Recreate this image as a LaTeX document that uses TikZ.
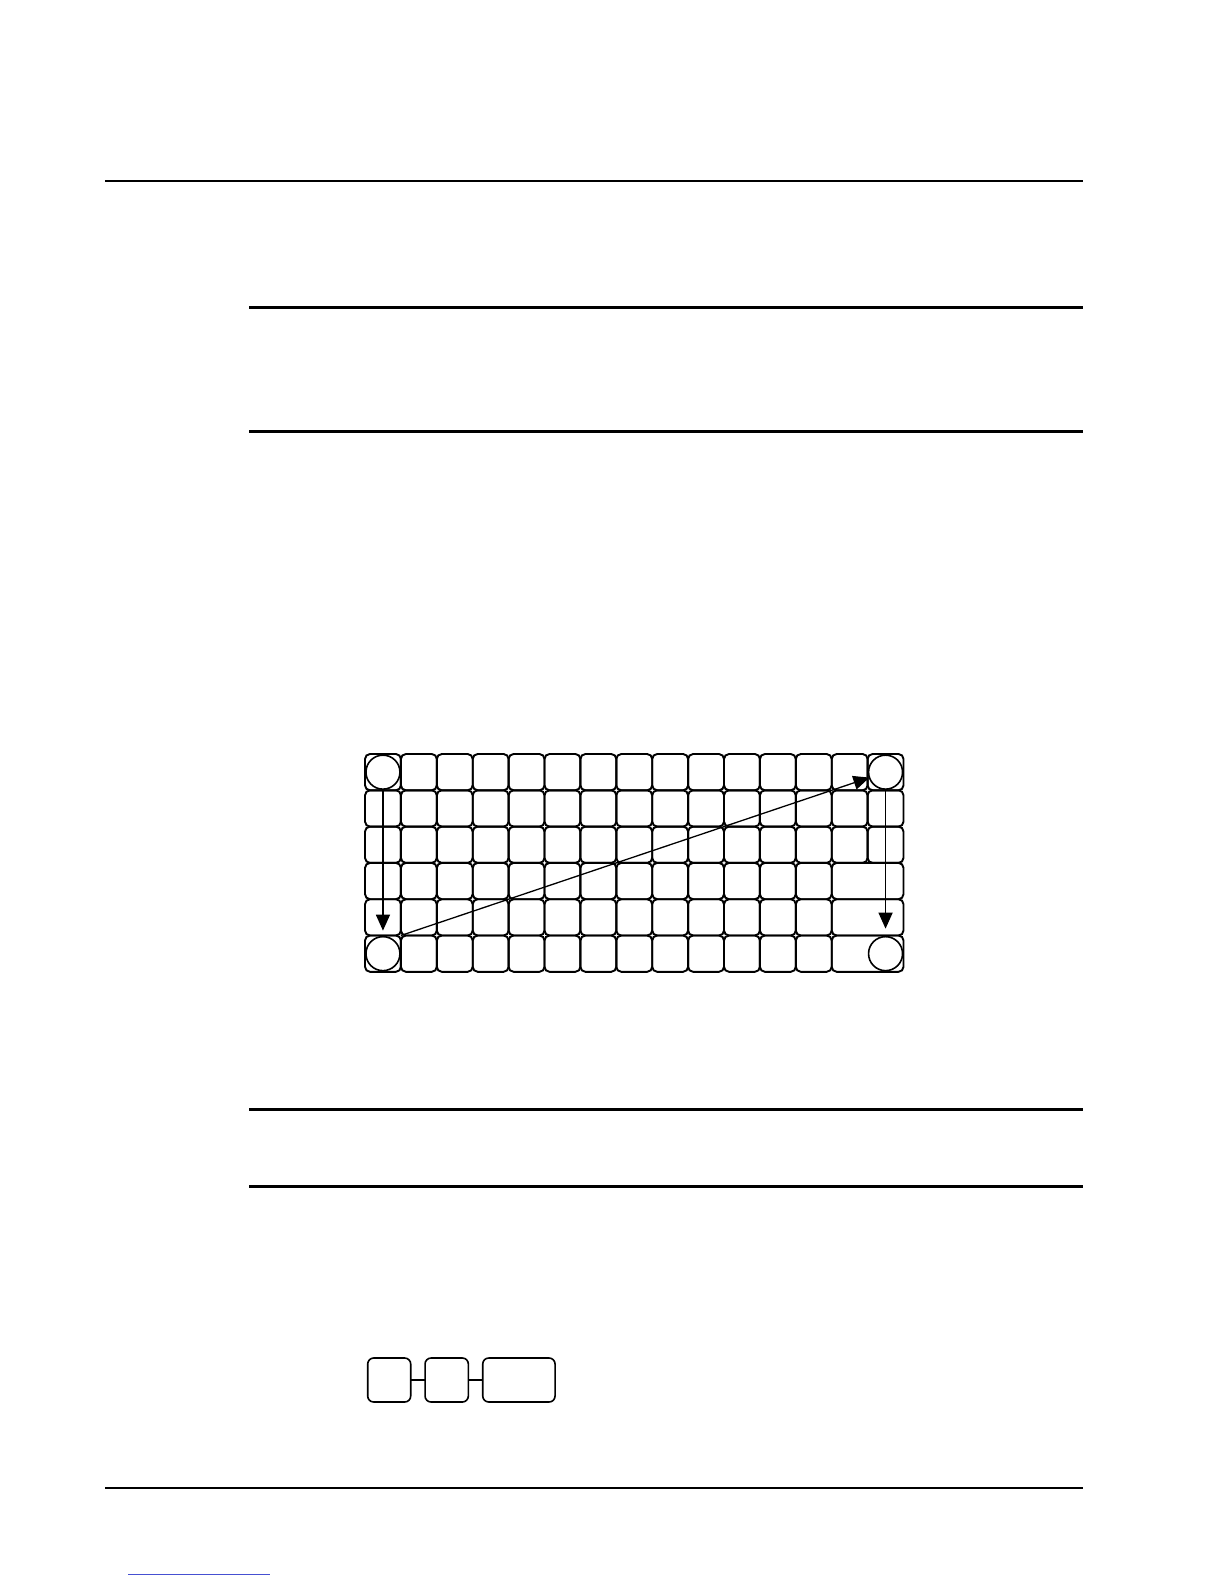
\documentclass[tikz,border=0pt]{standalone}
\usetikzlibrary{arrows.meta}
\begin{document}
\begin{tikzpicture}[x=1bp,y=-1bp,
  key/.style={draw, line width=1.9bp, rounded corners=5bp, minimum width=35.9bp, minimum height=36.3bp, inner sep=0pt, outer sep=0pt},
  widekey/.style={key, minimum width=71.8bp},
  spot/.style={draw, circle, line width=1.6bp, minimum size=34bp, inner sep=0pt, outer sep=0pt},
  rulethick/.style={line width=3bp},
  rulethin/.style={line width=2.2bp},
  arr/.style={line width=1.5bp, -{Triangle[length=16bp,width=14bp]}},
  pkey/.style={draw, line width=1.6bp, rounded corners=6bp, minimum height=44bp, inner sep=0pt, outer sep=0pt},
  link/.style={line width=1bp, draw={rgb,255:red,70;green,80;blue,210}},
]
\useasboundingbox (0,0) rectangle (1224,1584);
\fill[white] (0,0) rectangle (1224,1584);

% page rules
\draw[rulethin] (105,181) -- (1083,181);
\draw[rulethick] (249,307.5) -- (1083,307.5);
\draw[rulethick] (249,431.5) -- (1083,431.5);
\draw[rulethick] (249,1109.5) -- (1083,1109.5);
\draw[rulethick] (249,1186) -- (1083,1186);
\draw[rulethin] (105,1488) -- (1083,1488);
\draw[link] (128,1574) -- (270,1574);

% keyboard grid
\foreach \r in {1,2,3}
  \foreach \c in {1,...,15}
    \node[key] (k-\r-\c) at ({365+35.9*(\c-0.5)},{754+36.3*(\r-0.5)}) {};
\foreach \r in {4,5,6}
  \foreach \c in {1,...,13}
    \node[key] (k-\r-\c) at ({365+35.9*(\c-0.5)},{754+36.3*(\r-0.5)}) {};
\foreach \r in {4,5,6}
  \node[widekey] (k-\r-14) at ({365+35.9*14},{754+36.3*(\r-0.5)}) {};

% corner circles
\node[spot] (c-1-1) at (k-1-1) {};
\node[spot] (c-1-15) at (k-1-15) {};
\node[spot] (c-6-1) at (k-6-1) {};
\node[spot] (c-6-15) at ({365+35.9*14.5},{754+36.3*5.5}) {};

% arrows
\draw[arr] (c-1-1.south) -- ([yshift=6bp]c-6-1.north);
\draw[arr] (c-1-15.south) -- ([yshift=8bp]c-6-15.north);
\coordinate (dstart) at (k-6-2.north west);
\draw[arr, line width=1.3bp] (dstart) -- (c-1-15);

% key sequence
\node[pkey, minimum width=43bp] (p1) at (389.2,1380) {};
\node[pkey, minimum width=43.3bp] (p2) at (446.7,1380) {};
\node[pkey, minimum width=72.3bp] (p3) at (518.9,1380) {};
\draw[line width=1.2bp] (p1.east) -- (p2.west);
\draw[line width=1.2bp] (p2.east) -- (p3.west);
\end{tikzpicture}
\end{document}
